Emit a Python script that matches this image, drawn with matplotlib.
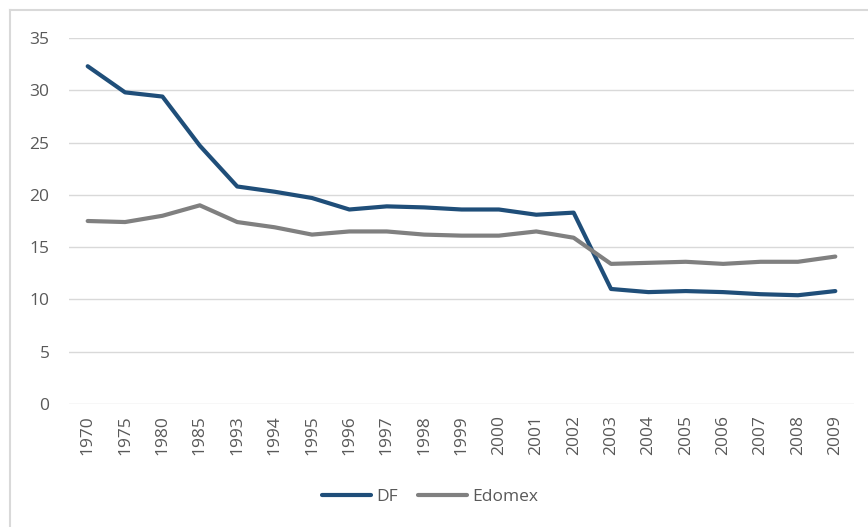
import matplotlib
matplotlib.use('Agg')
import matplotlib.pyplot as plt
from matplotlib.lines import Line2D

# Series data
years = ['1970', '1975', '1980', '1985', '1993', '1994', '1995', '1996', '1997', '1998',
         '1999', '2000', '2001', '2002', '2003', '2004', '2005', '2006', '2007', '2008', '2009']
df_values = [32.3, 29.8, 29.4, 24.7, 20.8, 20.3, 19.7, 18.6, 18.9, 18.8,
             18.6, 18.6, 18.1, 18.3, 11.0, 10.7, 10.8, 10.7, 10.5, 10.4, 10.8]
edomex_values = [17.5, 17.4, 18.0, 19.0, 17.4, 16.9, 16.2, 16.5, 16.5, 16.2,
                 16.1, 16.1, 16.5, 15.9, 13.4, 13.5, 13.6, 13.4, 13.6, 13.6, 14.1]
y_ticks = [0, 5, 10, 15, 20, 25, 30, 35]

text_color = '#595959'
grid_color = '#d9d9d9'

plt.rcParams['font.family'] = ['Open Sans', 'DejaVu Sans']

fig = plt.figure(figsize=(8.68, 5.27), dpi=100)
ax = fig.add_axes([69 / 868, 123 / 527, (854 - 69) / 868, (404 - 38) / 527])

x = list(range(len(years)))
ax.plot(x, df_values, color='#1f4e79', linewidth=3, label='DF', solid_capstyle='round')
ax.plot(x, edomex_values, color='#808080', linewidth=3, label='Edomex', solid_capstyle='round')

ax.set_xlim(-0.5, len(years) - 0.5)
ax.set_ylim(0, 35)
ax.set_yticks(y_ticks)
ax.set_xticks(x)
ax.set_xticklabels(years, rotation=90)
ax.grid(axis='y', color=grid_color, linewidth=1)
ax.set_axisbelow(True)
ax.tick_params(axis='both', length=0, colors=text_color, labelsize=12.5)
ax.tick_params(axis='y', pad=14)
ax.tick_params(axis='x', pad=8)
for side in ['top', 'right', 'left', 'bottom']:
    ax.spines[side].set_visible(False)

fig.legend(loc='center', bbox_to_anchor=(430 / 868, 1 - 497 / 527), ncol=2,
           frameon=False, fontsize=12.5, labelcolor=text_color,
           handlelength=2.8, handletextpad=0.3, columnspacing=1.2)

# Chart area border (top and left edges)
fig.add_artist(Line2D([10 / 868, 1], [1 - 10 / 527, 1 - 10 / 527], color=grid_color, linewidth=1.5))
fig.add_artist(Line2D([10 / 868, 10 / 868], [0, 1 - 10 / 527], color=grid_color, linewidth=1.5))

plt.savefig('out.png', dpi=100)
plt.close()
